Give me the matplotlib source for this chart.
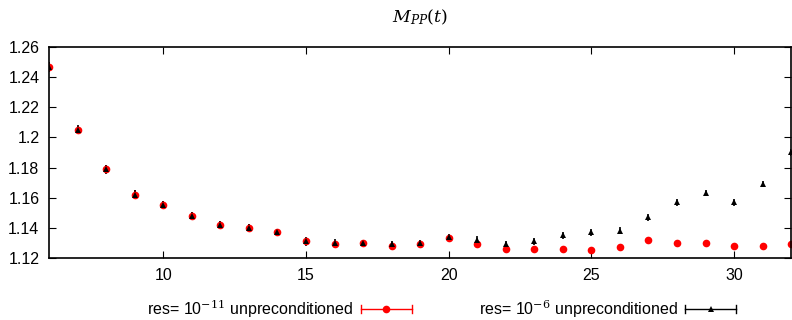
import numpy as np
import matplotlib
matplotlib.use("Agg")
import matplotlib.pyplot as plt
from matplotlib.legend_handler import HandlerBase
from matplotlib.lines import Line2D

plt.rcParams["font.family"] = ["Liberation Sans", "DejaVu Sans"]
plt.rcParams["mathtext.fontset"] = "dejavuserif"

t = np.arange(6, 33)

# res = 1e-11, unpreconditioned
m_red = [1.247, 1.205, 1.179, 1.162, 1.155, 1.148, 1.142, 1.140, 1.137,
         1.131, 1.129, 1.130, 1.128, 1.129, 1.133, 1.129, 1.126, 1.126,
         1.126, 1.125, 1.127, 1.132, 1.130, 1.130, 1.128, 1.128, 1.129]
e_red = [0.0032, 0.0028, 0.0028, 0.0028, 0.0026, 0.0025, 0.0025, 0.0024, 0.0022,
         0.002, 0.0016, 0.0014, 0.0012, 0.0012, 0.0012, 0.0012, 0.001, 0.001,
         0.0008, 0.0008, 0.0007, 0.0007, 0.0007, 0.0007, 0.0007, 0.0007, 0.0007]

# res = 1e-6, unpreconditioned
m_blk = [1.247, 1.205, 1.179, 1.162, 1.155, 1.148, 1.142, 1.140, 1.137,
         1.131, 1.130, 1.130, 1.129, 1.130, 1.134, 1.132, 1.129, 1.131,
         1.135, 1.137, 1.138, 1.147, 1.157, 1.163, 1.157, 1.169, 1.190]
e_blk = [0.0033, 0.003, 0.003, 0.003, 0.0028, 0.0027, 0.0027, 0.0026, 0.0025,
         0.0028, 0.0025, 0.0022, 0.0022, 0.0022, 0.0022, 0.0024, 0.0022, 0.0022,
         0.0022, 0.0022, 0.0022, 0.0022, 0.0022, 0.0022, 0.0022, 0.0022, 0.0022]


class GnuplotKey(HandlerBase):
    # horizontal bar with end ticks and the marker in the middle
    def create_artists(self, legend, orig, xd, yd, w, h, fontsize, trans):
        line, caps, bars = orig.lines
        c = line.get_color()
        y = h / 2 - yd
        x0, x1 = -xd, -xd + w
        arts = [Line2D([x0, x1], [y, y], color=c, lw=1),
                Line2D([x0, x0], [y - 3, y + 3], color=c, lw=1),
                Line2D([x1, x1], [y - 3, y + 3], color=c, lw=1),
                Line2D([(x0 + x1) / 2], [y], marker=line.get_marker(),
                       color=c, ms=line.get_markersize(), mew=0, ls="")]
        for a in arts:
            a.set_transform(trans)
        return arts


fig = plt.figure(figsize=(7.92, 3.2), dpi=100)
ax = fig.add_axes([0.062, 0.194, 0.937, 0.659])

h1 = ax.errorbar(t, m_red, yerr=e_red, fmt="o", color="#ff0000", ms=5.5,
                 capsize=3, capthick=1.2, elinewidth=1.2, mew=0,
                 label="res= 10$^{-11}$ unpreconditioned")
h2 = ax.errorbar(t, m_blk, yerr=e_blk, fmt="^", color="black", ms=5,
                 capsize=3, capthick=1.2, elinewidth=1.2, mew=0,
                 label="res= 10$^{-6}$ unpreconditioned")

ax.set_xlim(6, 32)
ax.set_ylim(1.12, 1.26)
ax.set_xticks([10, 15, 20, 25, 30])
ax.set_yticks(np.arange(1.12, 1.261, 0.02))
ax.set_yticklabels(["1.12", "1.14", "1.16", "1.18", "1.2", "1.22", "1.24", "1.26"])
ax.tick_params(direction="in", top=True, right=True, labelsize=11.5, length=5,
               width=0.8, pad=7)
for s in ax.spines.values():
    s.set_linewidth(1.2)

ax.set_title("$M_{PP}(t)$", fontsize=12.5, pad=18)

ax.legend(handles=[h1, h2], loc="center", bbox_to_anchor=(0.529, -0.24), ncol=2,
          frameon=False, markerfirst=False, fontsize=11.5, handlelength=3.2,
          columnspacing=4.2, handletextpad=0.45,
          handler_map={type(h1): GnuplotKey()})

fig.savefig("out.png", dpi=100)
